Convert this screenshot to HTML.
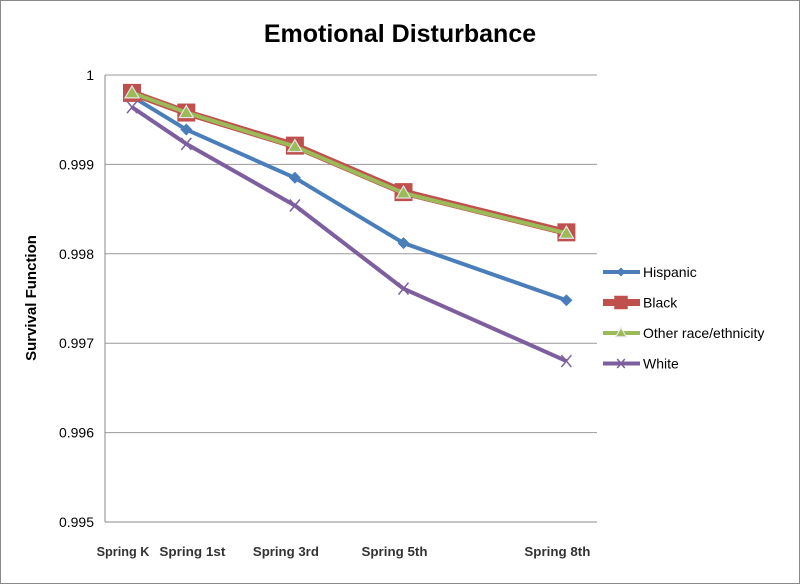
<!DOCTYPE html>
<html><head><meta charset="utf-8"><style>
body{margin:0;background:#fff;}
svg{display:block;font-family:"Liberation Sans",sans-serif;}
</style></head><body>
<svg id="chart" width="800" height="584">
<rect x="0.5" y="0.5" width="799" height="583" fill="#fff" stroke="#888"/>
<text x="400" y="42" text-anchor="middle" font-size="25" font-weight="bold">Emotional Disturbance</text>
<text transform="translate(36,298) rotate(-90)" text-anchor="middle" font-size="15" font-weight="bold">Survival Function</text>
<g id="grid"></g><g id="series"></g><g id="legend"></g>
</svg>
<script>
const categories=["Spring K","Spring 1st","Spring 3rd","Spring 5th","Spring 8th"];
const grades=[0,1,3,5,8];
const yTicks=[0.995,0.996,0.997,0.998,0.999,1];
const yTickLabels=["0.995","0.996","0.997","0.998","0.999","1"];
const seriesNames=["Hispanic","Black","Other race/ethnicity","White"];
const hispanic=[0.99976,0.99939,0.99885,0.99812,0.99748];
const black=[0.99980,0.99958,0.99921,0.99869,0.99824];
const other=[0.99980,0.99958,0.99920,0.99868,0.99823];
const white=[0.99964,0.99923,0.99854,0.99761,0.99680];
const NS="http://www.w3.org/2000/svg";
const L=105,R=597,T=75,B=522;
const x=g=>132+g*54.3;
const y=v=>B-(v-0.995)/0.005*(B-T);
function mk(tag,a,p){const e=document.createElementNS(NS,tag);for(const k in a)e.setAttribute(k,a[k]);p.appendChild(e);return e;}
const grid=document.getElementById('grid');
yTicks.forEach((t,i)=>{
 const ln=mk('line',{x1:L,x2:R,y1:y(t),y2:y(t),stroke:i==0?'#888':'#999','stroke-width':1},grid);
 
 
 const tx=mk('text',{x:L-11,y:y(t)+5,'text-anchor':'end','font-size':14},grid);
 tx.textContent=yTickLabels[i];
 
 
});
const ax=mk('line',{x1:L,x2:L,y1:T,y2:B,stroke:'#888'},grid);


let prevRight=-1e9;
categories.forEach((c,i)=>{
 const w=c.length*6.6;
 let left=x(grades[i])-9-w/2;
 if(left<prevRight+10)left=prevRight+10;
 prevRight=left+w;
 const tx=mk('text',{x:left,y:556,'font-size':12.5,'font-weight':'bold',fill:'#333',textLength:w,lengthAdjust:'spacingAndGlyphs'},grid);
 tx.textContent=c;
 
 
});
const S=document.getElementById('series');
function marker(type,cx,cy,g,s){
 s=s||1;let e;
 if(type=='diamond')e=mk('polygon',{points:`${cx},${cy-6*s} ${cx+6*s},${cy} ${cx},${cy+6*s} ${cx-6*s},${cy}`,fill:'#4a7ebb'},g);
 else if(type=='square')e=mk('rect',{x:cx-9*s,y:cy-9*s,width:18*s,height:18*s,fill:'#c0504d'},g);
 else if(type=='tri')e=mk('polygon',{points:`${cx},${cy-7*s} ${cx+7*s},${cy+5*s} ${cx-7*s},${cy+5*s}`,fill:'#9bbb59',stroke:'#e6e6e6','stroke-width':1.2},g);
 else e=mk('path',{d:`M${cx-5*s},${cy+6*s}L${cx+5*s},${cy-6*s}M${cx-5*s},${cy-6*s}L${cx+5*s},${cy+6*s}`,stroke:'#7d5f9f','stroke-width':1.5},g);
 
 
}
const defs=[[hispanic,'#4a7ebb',4,'diamond','hispanic-line'],[black,'#c0504d',7,'square','black-line'],[other,'#9bbb59',4,'tri','other-line'],[white,'#7d5f9f',4,'x','white-line']];
defs.forEach(([d,col,w,m,name])=>{
 const g=mk('g',{},S);
 
 
 mk('polyline',{points:d.map((v,i)=>x(grades[i])+','+y(v)).join(' '),fill:'none',stroke:col,'stroke-width':w,'stroke-linejoin':'round'},g);
 d.forEach((v,i)=>marker(m,x(grades[i]),y(v),g));
});
const Lg=document.getElementById('legend');
defs.forEach(([d,col,w,m,name],i)=>{
 const yy=272+i*30.5;
 const g=mk('g',{},Lg);
 
 
 mk('line',{x1:603,x2:640,y1:yy,y2:yy,stroke:col,'stroke-width':w},g);
 marker(m,621,yy,g,0.75);
 const t=mk('text',{x:643,y:yy+5,'font-size':14},g);
 t.textContent=seriesNames[i];
});
</script>
</body></html>
